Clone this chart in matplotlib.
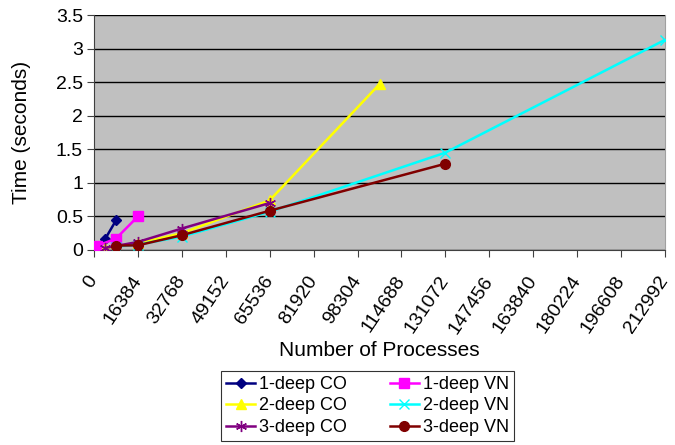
import matplotlib
matplotlib.use('Agg')
import matplotlib.pyplot as plt

plt.rcParams['font.family'] = ['Liberation Sans', 'DejaVu Sans']

# process counts and timings
co1_x = [1024, 4096, 8192]
co1_y = [0.05, 0.16, 0.44]
vn1_x = [1024, 8192, 16384]
vn1_y = [0.06, 0.17, 0.50]
co2_x = [4096, 16384, 32768, 65536, 106496]
co2_y = [0.03, 0.10, 0.25, 0.74, 2.47]
vn2_x = [8192, 16384, 32768, 65536, 131072, 212992]
vn2_y = [0.05, 0.08, 0.20, 0.57, 1.45, 3.13]
co3_x = [4096, 16384, 32768, 65536]
co3_y = [0.03, 0.12, 0.32, 0.70]
vn3_x = [8192, 16384, 32768, 65536, 131072]
vn3_y = [0.065, 0.07, 0.22, 0.585, 1.285]

x_ticks = [i * 16384 for i in range(14)]
y_ticks = [0, 0.5, 1, 1.5, 2, 2.5, 3, 3.5]

fig = plt.figure(figsize=(6.75, 4.45), dpi=100)
ax = fig.add_axes([94 / 675, 1 - 250 / 445, 571 / 675, 235 / 445])
ax.set_facecolor('#C0C0C0')

lw = 1.8
ax.plot(co1_x, co1_y, color='#000080', marker='D', markersize=5, lw=lw, label='1-deep CO', zorder=3)
ax.plot(vn1_x, vn1_y, color='#FF00FF', marker='s', markersize=7, lw=lw, label='1-deep VN', zorder=3)
ax.plot(co2_x, co2_y, color='#FFFF00', marker='^', markersize=7, lw=lw, label='2-deep CO', zorder=3)
ax.plot(vn2_x, vn2_y, color='#00FFFF', marker='x', markersize=7, lw=lw, label='2-deep VN', zorder=3)
ax.plot(co3_x, co3_y, color='#800080', marker=(6, 2, 0), markersize=8, lw=lw, label='3-deep CO', zorder=3)
ax.plot(vn3_x, vn3_y, color='#800000', marker='o', markersize=7, lw=lw, label='3-deep VN', zorder=3)

ax.set_xlim(0, 212992)
ax.set_ylim(0, 3.5)
ax.set_xticks(x_ticks)
ax.set_xticklabels([str(v) for v in x_ticks], rotation=56, ha='right', va='center',
                   rotation_mode='anchor', fontsize=14)
ax.set_yticks(y_ticks)
ax.set_yticklabels(['0', '0.5', '1', '1.5', '2', '2.5', '3', '3.5'], fontsize=14)
ax.yaxis.grid(True, color='black', lw=1)
ax.set_axisbelow(True)

ax.spines['top'].set_visible(False)
ax.spines['right'].set_color('#A0A0A0')
ax.spines['left'].set_color('#404040')
ax.spines['bottom'].set_color('#404040')
ax.tick_params(axis='both', direction='out', length=5, color='#404040')
ax.tick_params(axis='x', pad=15)
ax.tick_params(axis='y', pad=3)

ax.set_xlabel('Number of Processes', fontsize=15)
ax.set_ylabel('Time (seconds)', fontsize=15)
ax.xaxis.set_label_coords(0.5, -(351 - 250) / 235, transform=ax.transAxes)
ax.xaxis.label.set_va('center')
ax.yaxis.set_label_coords(-(94 - 22) / 571, 0.5)
ax.yaxis.label.set_va('center')

handles, labels = ax.get_legend_handles_labels()
order = [0, 2, 4, 1, 3, 5]
leg = fig.legend([handles[i] for i in order], [labels[i] for i in order],
                 ncol=2, loc='center', bbox_to_anchor=(367.5 / 675, 1 - 406 / 445),
                 fontsize=13, frameon=True, fancybox=False, edgecolor='black',
                 handlelength=1.6, handletextpad=0.2, columnspacing=2.4,
                 labelspacing=0.25, borderpad=0.3)
leg.get_frame().set_linewidth(0.8)

fig.savefig('out.png', dpi=100)
